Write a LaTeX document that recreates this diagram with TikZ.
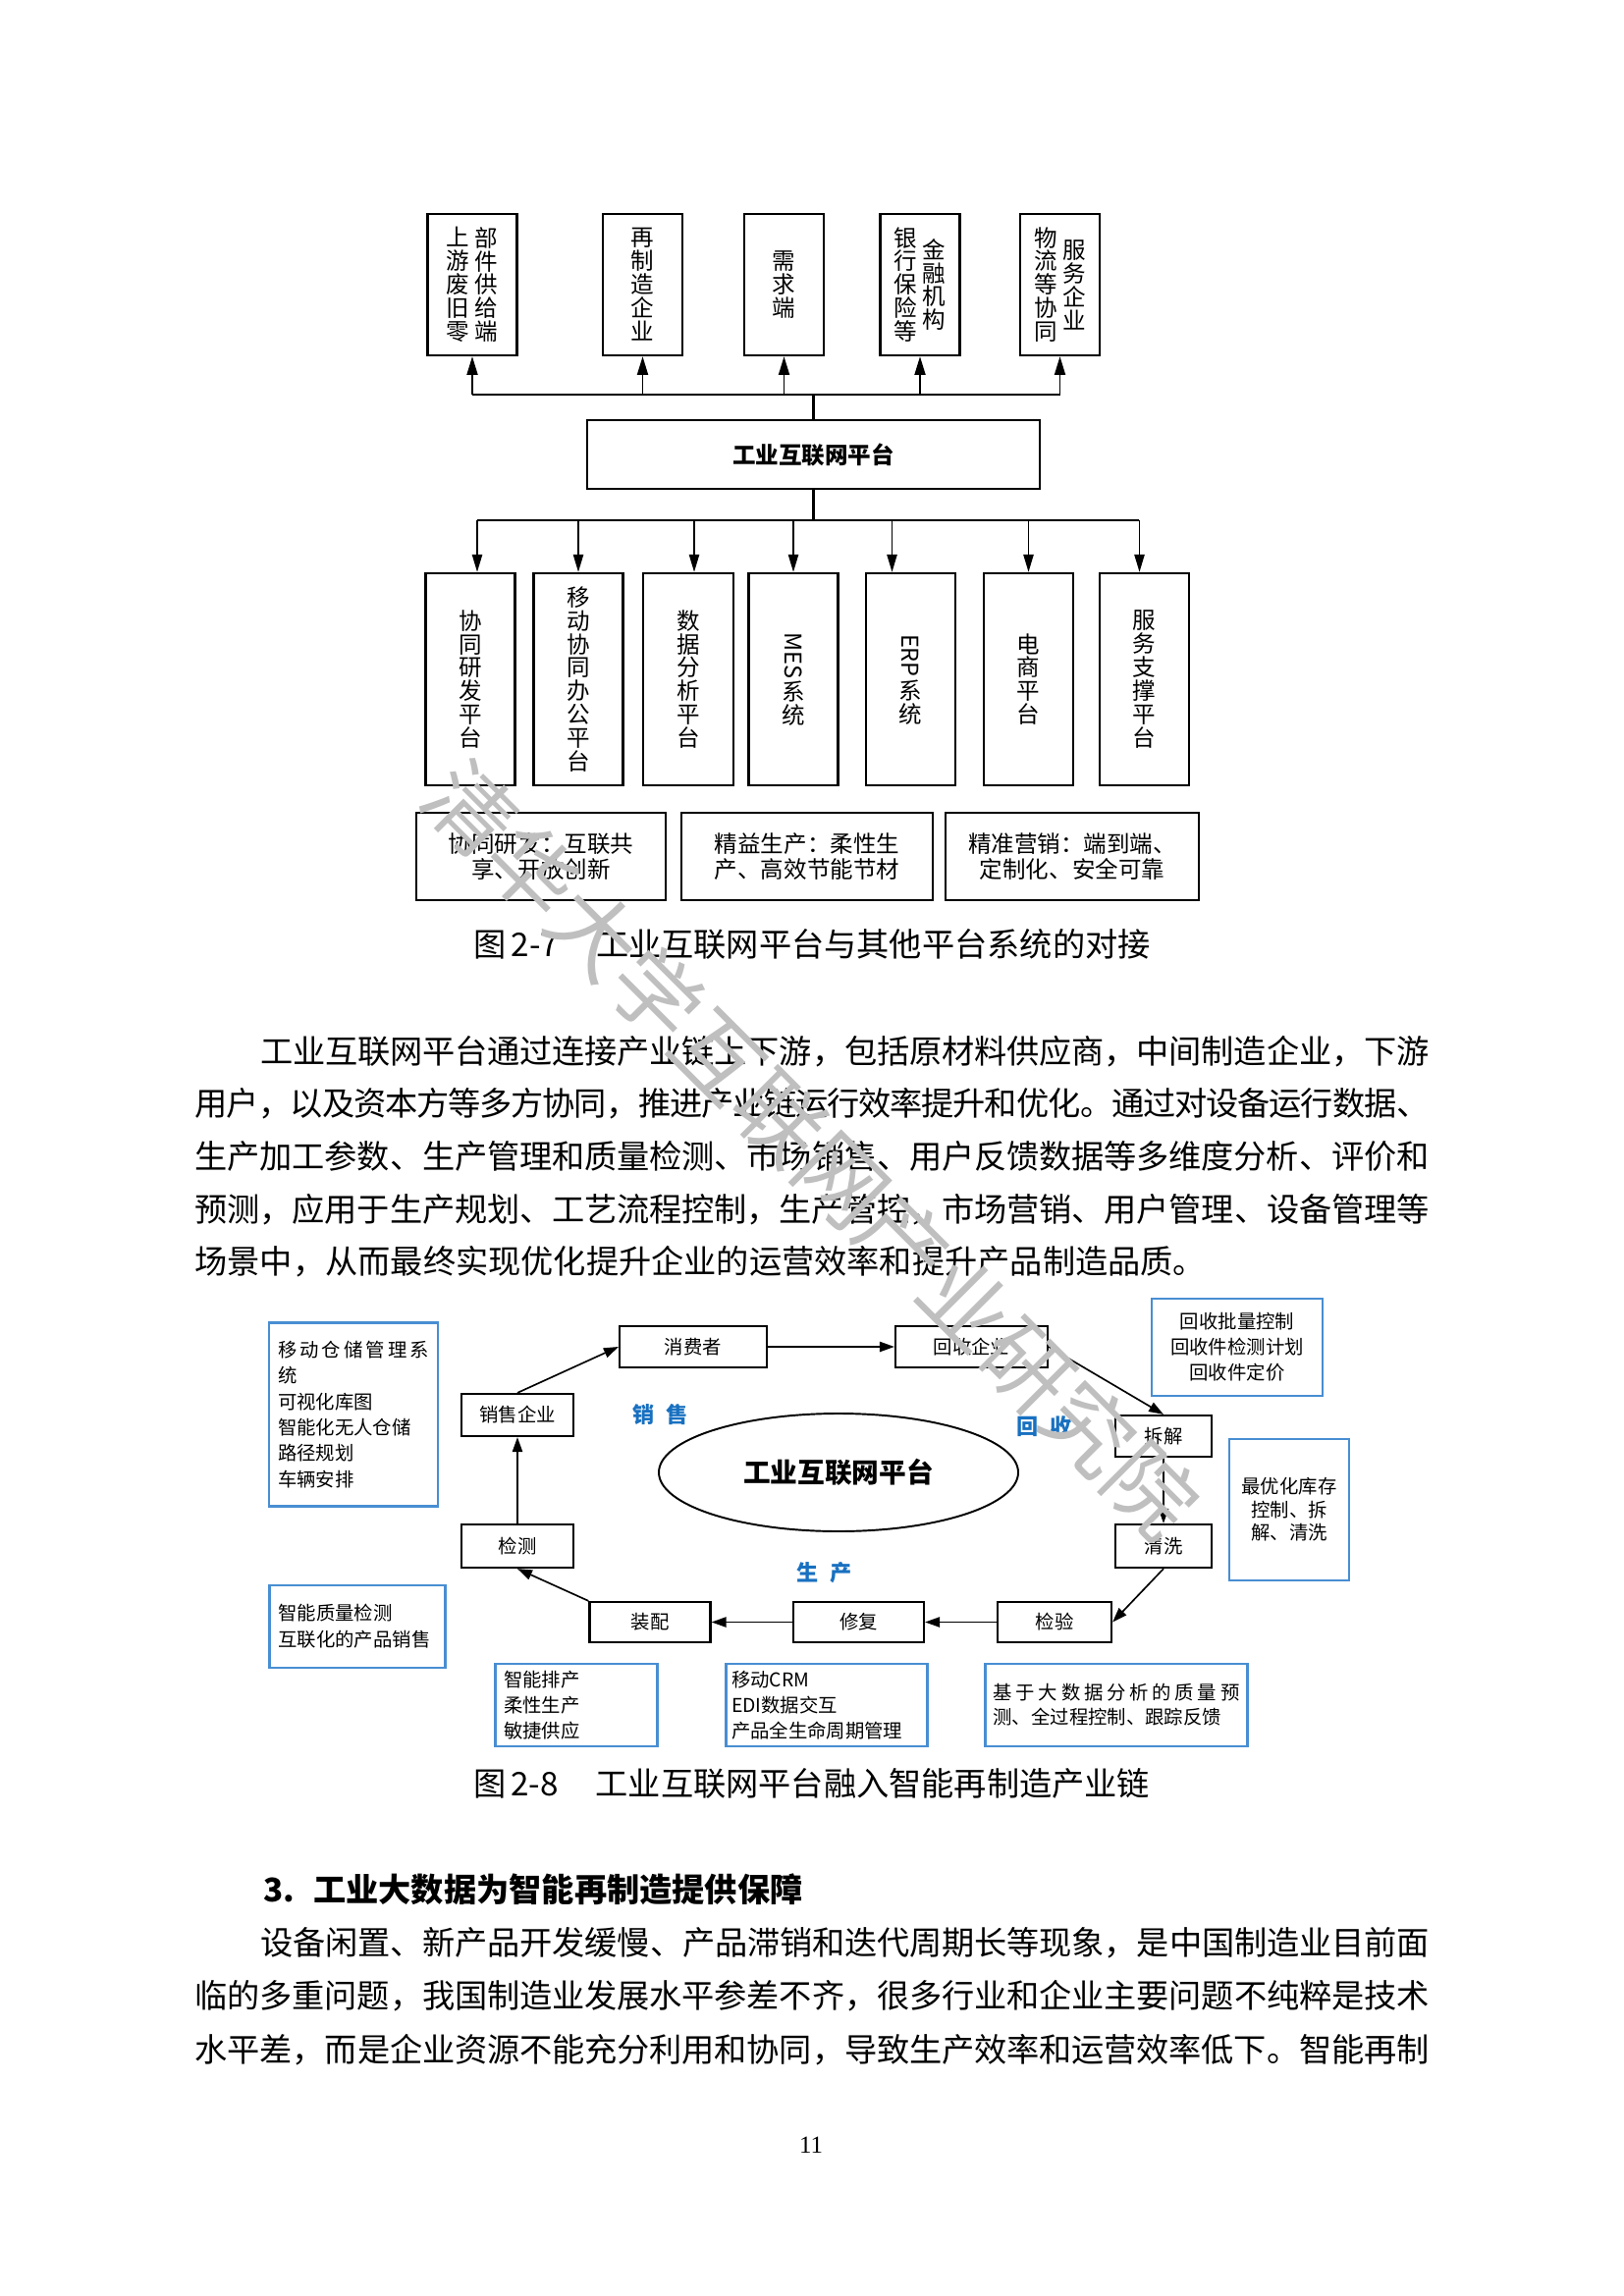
\documentclass[tikz,border=0pt]{standalone}
\usepackage{fontspec}
\usepackage{graphicx}
\setmainfont{Noto Sans CJK SC}
\newfontfamily\pagenumfont{Liberation Serif}
\usetikzlibrary{arrows.meta,positioning,shapes.geometric,calc}
\XeTeXlinebreaklocale "zh"
\XeTeXlinebreakskip=0pt plus 2pt minus 1pt
\setlength{\parindent}{0pt}
\setlength{\parskip}{0pt}
\newlength{\pxu}
\setlength{\pxu}{0.127mm}
\definecolor{noteblue}{RGB}{72,142,210}
\definecolor{tagblue}{RGB}{24,112,192}
% vertical column of characters, and a line stretched to the full width
\newcommand{\vcol}[1]{$\vcenter{\baselineskip=8.65pt\let\\\cr\halign{\hfil##\hfil\cr#1\crcr}}$}
\newcommand{\jline}[1]{{\parfillskip=0pt\relax#1\par}}
\tikzset{
  topbox/.style={draw, line width=0.8pt, inner sep=0pt, minimum width=81\pxu, minimum height=144\pxu, font=\fontsize{8.5pt}{8.65pt}\selectfont},
  colbox/.style={draw, line width=0.8pt, inner sep=0pt, minimum width=91\pxu, minimum height=216\pxu, font=\fontsize{8.5pt}{8.65pt}\selectfont},
  goalbox/.style={draw, line width=0.8pt, inner sep=0pt, minimum width=256\pxu, minimum height=89\pxu, align=center, font=\fontsize{8.5pt}{9.55pt}\selectfont},
  upar/.style={line width=0.7pt, -{Triangle[length=2.4mm, width=1.4mm]}},
  downar/.style={line width=0.7pt, -{Triangle[length=2.3mm, width=1.3mm]}},
  bus/.style={line width=1pt},
  procbox/.style={draw, line width=0.8pt, inner sep=0pt, minimum height=43\pxu, font=\fontsize{7pt}{9pt}\selectfont},
  notebox/.style={draw=noteblue, line width=0.9pt, inner ysep=0pt, font=\fontsize{7pt}{9.5pt}\selectfont},
  cyc/.style={line width=0.6pt, -{Triangle[length=1.9mm, width=1.3mm]}},
  tag/.style={text=tagblue, font=\fontsize{8pt}{9pt}\selectfont\bfseries},
  bodyline/.style={anchor=west, inner sep=0pt, text width=#1, align=justify, font=\fontsize{12pt}{14pt}\selectfont},
  plainline/.style={anchor=west, inner sep=0pt, font=\fontsize{12pt}{14pt}\selectfont},
}
\begin{document}
\begin{tikzpicture}[x=\pxu, y=-\pxu]
\useasboundingbox (0,0) rectangle (1653,2339);
\fill[white] (0,0) rectangle (1653,2339);

% figure 2-7
\node[topbox, minimum width=91\pxu] (t1) at (481,290) {\vcol{上\\游\\废\\旧\\零}\hspace{2pt}\vcol{部\\件\\供\\给\\端}};
\node[topbox] (t2) at (654.5,290) {\vcol{再\\制\\造\\企\\业}};
\node[topbox] (t3) at (798.5,290) {\vcol{需\\求\\端}};
\node[topbox] (t4) at (937,290) {\vcol{银\\行\\保\\险\\等}\hspace{2pt}\vcol{金\\融\\机\\构}};
\node[topbox] (t5) at (1079.5,290) {\vcol{物\\流\\等\\协\\同}\hspace{2pt}\vcol{服\\务\\企\\业}};
\node[draw, line width=0.8pt, minimum width=461\pxu, minimum height=70\pxu, font=\fontsize{8.5pt}{9pt}\selectfont\bfseries] (platform) at (828.5,463) {工业互联网平台};
\coordinate (busu) at (828.5,402);
\coordinate (busd) at (828.5,530);
\coordinate (busl) at (486,530);
\coordinate (busr) at (1160,530);
\draw[bus] (platform.north) -- (busu);
\draw[bus] (t1.south |- busu) -- (t5.south |- busu);
\foreach \n in {t1,t2,t3,t4,t5}
  \draw[upar] (\n.south |- busu) -- (\n.south);

\node[colbox] (b1) at (479,692) {\vcol{协\\同\\研\\发\\平\\台}};
\node[colbox] (b2) at (589,692) {\vcol{移\\动\\协\\同\\办\\公\\平\\台}};
\node[colbox, minimum width=92\pxu] (b3) at (701,692) {\vcol{数\\据\\分\\析\\平\\台}};
\node[colbox] (b4) at (808,692) {\vcol{\rotatebox{-90}{MES}\\系\\统}};
\node[colbox] (b5) at (927.5,692) {\vcol{\rotatebox{-90}{ERP}\\系\\统}};
\node[colbox] (b6) at (1047.5,692) {\vcol{电\\商\\平\\台}};
\node[colbox] (b7) at (1165.5,692) {\vcol{服\\务\\支\\撑\\平\\台}};
\draw[bus] (platform.south) -- (busd);
\draw[bus] (busl) -- (busr);
\foreach \n/\s in {b1/7,b2/0,b3/6,b4/0,b5/-19,b6/0,b7/-5}
  \draw[downar] ($(\n.north |- busd)+(\s,0)$) -- ($(\n.north)+(\s,0)$);

\node[goalbox, minimum width=254\pxu] (g1) at (551,872.5) {协同研发：互联共\\享、开放创新};
\node[goalbox] (g2) at (822,872.5) {精益生产：柔性生\\产、高效节能节材};
\node[goalbox, minimum width=258\pxu] (g3) at (1092,872.5) {精准营销：端到端、\\定制化、安全可靠};

\node[plainline] (cap1) at (482,962) {\makebox[3.75em][l]{\makebox[1.15em][l]{图}2-7}工业互联网平台与其他平台系统的对接};

% paragraph
\node[bodyline=1190.4\pxu] (p1a) at (264.6,1071) {\jline{工业互联网平台通过连接产业链上下游，包括原材料供应商，中间制造企业，下游}};
\node[bodyline=1257\pxu] (p1b) at (198,1124.6) {\jline{用户，以及资本方等多方协同，推进产业链运行效率提升和优化。通过对设备运行数据、}};
\node[bodyline=1257\pxu] (p1c) at (198,1178) {\jline{生产加工参数、生产管理和质量检测、市场销售、用户反馈数据等多维度分析、评价和}};
\node[bodyline=1257\pxu] (p1d) at (198,1232) {\jline{预测，应用于生产规划、工艺流程控制，生产管控，市场营销、用户管理、设备管理等}};
\node[plainline] (p1e) at (198,1285.5) {场景中，从而最终实现优化提升企业的运营效率和提升产品制造品质。};

% figure 2-8
\node[procbox, minimum width=114\pxu] (xs) at (527,1441.5) {销售企业};
\node[procbox, minimum width=114\pxu, minimum height=44\pxu] (jc) at (527,1575) {检测};
\node[procbox, minimum width=150\pxu, minimum height=42\pxu] (xf) at (706,1372) {消费者};
\node[procbox, minimum width=155\pxu, minimum height=42\pxu] (hs) at (989.5,1372) {回收企业};
\node[procbox, minimum width=98\pxu, minimum height=42\pxu] (cj) at (1185,1463) {拆解};
\node[procbox, minimum width=98\pxu, minimum height=44\pxu] (qx) at (1185,1575) {清洗};
\node[procbox, minimum width=116\pxu, minimum height=41\pxu] (jy) at (1074,1652.5) {检验};
\node[procbox, minimum width=133\pxu, minimum height=41\pxu] (xfu) at (874.5,1652.5) {修复};
\node[procbox, minimum width=123\pxu, minimum height=41\pxu] (zp) at (662,1652.5) {装配};
\node[ellipse, draw, line width=0.7pt, minimum width=366\pxu, minimum height=120\pxu, font=\fontsize{10pt}{12pt}\selectfont\bfseries] (core) at (854,1500) {工业互联网平台};
\node[tag] (tsale) at (672.5,1441) {销\hspace{1.5mm}售};
\node[tag] (trec) at (1064,1453) {回\hspace{1.5mm}收};
\node[tag] (tprod) at (840,1602) {生\hspace{1.5mm}产};

\draw[cyc] (xs.north) -- (xf.west);
\draw[cyc] (xf.east) -- (hs.west);
\draw[cyc] (hs.east) -- (cj.north);
\draw[cyc] (cj.south) -- (qx.north);
\draw[cyc] (qx.south) -- (jy.east);
\draw[cyc] (jy.west) -- (xfu.east);
\draw[cyc] (xfu.west) -- (zp.east);
\draw[cyc] (zp.north west) -- (jc.south);
\draw[cyc] (jc.north) -- (xs.south);

\node[notebox, minimum height=187\pxu, inner xsep=9\pxu, text width=154\pxu, align=justify] (nwh) at (360,1441) {\jline{移动仓储管理系}统\\可视化库图\\智能化无人仓储\\路径规划\\车辆安排};
\node[notebox, minimum width=174\pxu, minimum height=99\pxu, align=center, font=\fontsize{7pt}{9.36pt}\selectfont] (nrec) at (1260,1372.5) {回收批量控制\\回收件检测计划\\回收件定价};
\node[notebox, minimum width=122\pxu, minimum height=144\pxu, align=center, font=\fontsize{7pt}{8.45pt}\selectfont] (nstock) at (1313,1538) {最优化库存\\控制、拆\\解、清洗};
\node[notebox, minimum height=84\pxu, inner xsep=9\pxu, text width=161\pxu, align=left, font=\fontsize{7pt}{9.7pt}\selectfont] (nqual) at (364,1657) {智能质量检测\\互联化的产品销售};
\node[notebox, minimum height=84\pxu, inner xsep=8.5\pxu, text width=148\pxu, align=left] (nsched) at (587,1737) {智能排产\\柔性生产\\敏捷供应};
\node[notebox, minimum height=84\pxu, inner xsep=5.6\pxu, text width=194\pxu, align=left] (ncrm) at (842,1737) {移动CRM\\EDI数据交互\\产品全生命周期管理};
\node[notebox, minimum height=84\pxu, inner xsep=8\pxu, text width=251\pxu, align=justify, font=\fontsize{7pt}{9pt}\selectfont] (nbig) at (1137,1737) {\jline{基于大数据分析的质量预}测、全过程控制、跟踪反馈};

\node[plainline] (cap2) at (481.5,1817) {\makebox[3.75em][l]{\makebox[1.15em][l]{图}2-8}工业互联网平台融入智能再制造产业链};

% section 3
\node[plainline, font=\fontsize{12pt}{14pt}\selectfont\bfseries] (sec3) at (268,1925) {\makebox[1.53em][l]{3.}工业大数据为智能再制造提供保障};
\node[bodyline=1190.4\pxu] (p2a) at (264.6,1979) {\jline{设备闲置、新产品开发缓慢、产品滞销和迭代周期长等现象，是中国制造业目前面}};
\node[bodyline=1257\pxu] (p2b) at (198,2033.5) {\jline{临的多重问题，我国制造业发展水平参差不齐，很多行业和企业主要问题不纯粹是技术}};
\node[bodyline=1257\pxu] (p2c) at (198,2088) {\jline{水平差，而是企业资源不能充分利用和协同，导致生产效率和运营效率低下。智能再制}};

\node[font=\pagenumfont\fontsize{9pt}{11pt}\selectfont] (pnum) at (826,2185) {11};

% watermark
\node[rotate=-45, text=black!25, font=\fontsize{32.2pt}{34pt}\selectfont] (mark) at (826.5,1171) {清华大学互联网产业研究院};
\end{tikzpicture}
\end{document}
